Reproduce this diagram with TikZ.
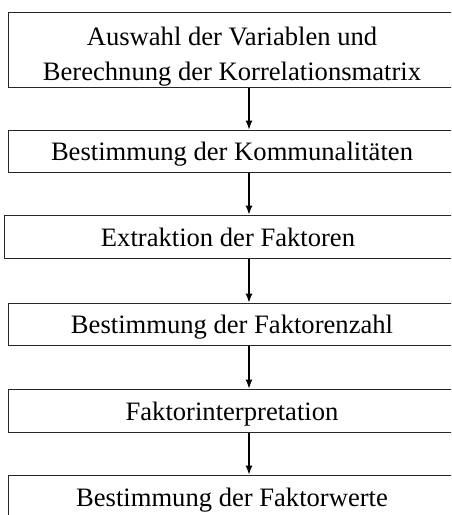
\documentclass[tikz,border=0pt]{standalone}
\usepackage{fontspec}
\setmainfont{Liberation Serif}
\usetikzlibrary{arrows.meta}
\begin{document}
\begin{tikzpicture}[x=1pt,y=-1pt,
  stepbox/.style={draw=black!85, line width=1pt, rectangle, inner sep=0pt,
    minimum width=448pt, align=center, text height=19pt, text depth=0pt,
    font=\fontsize{26.6}{35}\selectfont},
  flow/.style={-{Latex[length=9pt,width=7pt]}, line width=1.1pt}]
\useasboundingbox (0,0) rectangle (451,515);
\clip (0,0) rectangle (451,515);
% process steps, top to bottom
\node[stepbox, minimum height=75pt, text height=61pt] (s1) at (232,49.5)
  {Auswahl der Variablen und\\Berechnung der Korrelationsmatrix};
\node[stepbox, minimum height=42pt] (s2) at (232,151) {Bestimmung der Kommunalitäten};
\node[stepbox, minimum height=43pt] (s3) at (228,236.5) {Extraktion der Faktoren};
\node[stepbox, minimum height=42pt] (s4) at (232,324) {Bestimmung der Faktorenzahl};
\node[stepbox, minimum height=43pt] (s5) at (232,410.5) {Faktorinterpretation};
\node[stepbox, minimum height=43pt] (s6) at (232,496.5) {Bestimmung der Faktorwerte};
% column of the connecting arrows
\coordinate (ax) at (249,0);
\draw[flow] (s1.south -| ax) -- (s2.north -| ax);
\draw[flow] (s2.south -| ax) -- (s3.north -| ax);
\draw[flow] (s3.south -| ax) -- (s4.north -| ax);
\draw[flow] (s4.south -| ax) -- (s5.north -| ax);
\draw[flow] (s5.south -| ax) -- (s6.north -| ax);
\end{tikzpicture}
\end{document}
